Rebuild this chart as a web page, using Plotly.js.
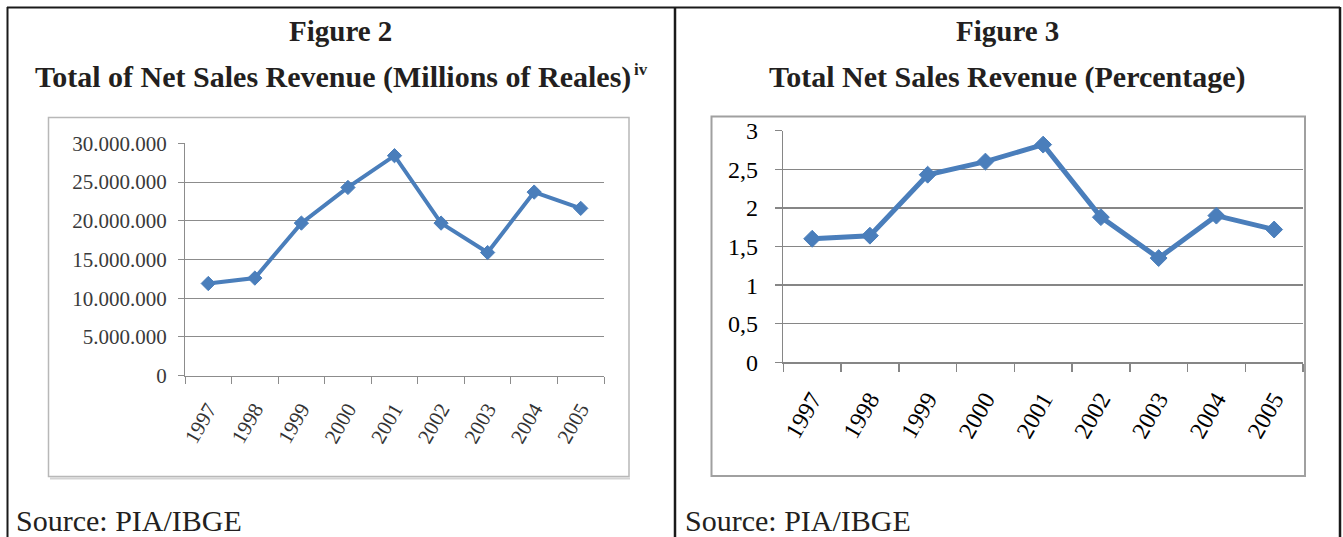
<!DOCTYPE html>
<html>
<head>
<meta charset="utf-8">
<script src="https://cdn.plot.ly/plotly-3.0.1.min.js"></script>
<style>
  html, body { margin: 0; padding: 0; background: #ffffff; }
  #chart { width: 1343px; height: 537px; }
</style>
</head>
<body>
<div id="chart"></div>
<script>
// ---- Data ----
const years = ["1997", "1998", "1999", "2000", "2001", "2002", "2003", "2004", "2005"];
const netSalesRevenue = [11900000, 12600000, 19700000, 24300000, 28400000, 19700000, 15900000, 23700000, 21600000];
const netSalesPercentage = [1.6, 1.64, 2.43, 2.6, 2.82, 1.88, 1.35, 1.9, 1.72];

const fig2Label = "Figure 2";
const fig2Title = "Total of Net Sales Revenue (Millions of Reales)";
const fig2Note = "iv";
const fig3Label = "Figure 3";
const fig3Title = "Total Net Sales Revenue (Percentage)";
const sourceText = "Source: PIA/IBGE";

// ---- Layout helpers (pixel -> paper) ----
const W = 1343, H = 537;
const X = px => px / W;
const Y = py => 1 - py / H;

const blue = "#4a7ebb";
const serif = "Liberation Serif, Times New Roman, serif";

const traces = [
  {
    x: years, y: netSalesRevenue, xaxis: "x", yaxis: "y",
    type: "scatter", mode: "lines+markers",
    line: { color: blue, width: 4 },
    marker: { symbol: "diamond", size: 11, color: blue, line: { color: blue, width: 1 } },
    hoverinfo: "x+y", showlegend: false
  },
  {
    x: years, y: netSalesPercentage, xaxis: "x2", yaxis: "y2",
    type: "scatter", mode: "lines+markers",
    line: { color: blue, width: 5 },
    marker: { symbol: "diamond", size: 13, color: blue, line: { color: blue, width: 1 } },
    hoverinfo: "x+y", showlegend: false
  }
];

const frameColor = "#1a1a1a";
const shapes = [
  // outer table frame
  { type: "line", xref: "paper", yref: "paper", x0: X(7), x1: X(1340), y0: Y(7.5), y1: Y(7.5), line: { color: frameColor, width: 2 } },
  { type: "line", xref: "paper", yref: "paper", x0: X(7.5), x1: X(7.5), y0: Y(7), y1: Y(537), line: { color: frameColor, width: 2 } },
  { type: "line", xref: "paper", yref: "paper", x0: X(675), x1: X(675), y0: Y(7), y1: Y(537), line: { color: frameColor, width: 2.5 } },
  { type: "line", xref: "paper", yref: "paper", x0: X(1340), x1: X(1340), y0: Y(7), y1: Y(537), line: { color: frameColor, width: 2.5 } },
  // chart boxes
  { type: "line", xref: "paper", yref: "paper", x0: X(50), x1: X(630), y0: Y(478.5), y1: Y(478.5), line: { color: "#d4d4d4", width: 2 } },
  { type: "rect", xref: "paper", yref: "paper", x0: X(48.5), x1: X(629), y0: Y(476.5), y1: Y(117.5), line: { color: "#b8b8b8", width: 1.5 } },
  { type: "rect", xref: "paper", yref: "paper", x0: X(711.5), x1: X(1305), y0: Y(476), y1: Y(116.5), line: { color: "#a0a0a0", width: 2 } }
];

const ann = (text, x, y, size, bold, anchor) => ({
  text: bold ? "<b>" + text + "</b>" : text,
  xref: "paper", yref: "paper", x: X(x), y: Y(y),
  xanchor: anchor || "center", yanchor: "middle",
  showarrow: false, font: { family: serif, size: size, color: "#231f20" }
});

const annotations = [
  ann(fig2Label, 341, 31, 29, true),
  ann(fig2Title, 333, 77, 30, true),
  ann(fig2Note, 632, 69, 17, true, "left"),
  ann(fig3Label, 1008, 31, 29, true),
  ann(fig3Title, 1008, 77, 30, true),
  ann(sourceText, 14, 520, 30, false, "left"),
  ann(sourceText, 683, 520, 30, false, "left")
];

const layout = {
  width: W, height: H,
  margin: { l: 0, r: 0, t: 0, b: 0, pad: 0 },
  paper_bgcolor: "#ffffff", plot_bgcolor: "#ffffff",
  separators: ",.",
  showlegend: false,
  xaxis: {
    domain: [X(185), X(604)], anchor: "y",
    type: "category", range: [-0.5, 8.5], fixedrange: true,
    showgrid: false, zeroline: false,
    showline: true, linecolor: "#8c8c8c", linewidth: 1,
    ticks: "outside", tickson: "boundaries", ticklen: 7, tickcolor: "#8c8c8c", tickwidth: 1,
    tickangle: -60, tickfont: { family: serif, size: 21, color: "#333333" },
    ticklabelstandoff: 12
  },
  yaxis: {
    domain: [Y(375.7), Y(143.3)], anchor: "x",
    range: [0, 30000000], dtick: 5000000, tick0: 0, tickformat: ",d", fixedrange: true,
    showgrid: true, gridcolor: "#8c8c8c", gridwidth: 1, zeroline: false,
    showline: true, linecolor: "#8c8c8c", linewidth: 1,
    ticks: "outside", ticklen: 6, tickcolor: "#8c8c8c", tickwidth: 1,
    tickfont: { family: serif, size: 21, color: "#3a3a3a" },
    ticklabelstandoff: 7
  },
  xaxis2: {
    domain: [X(783.3), X(1303)], anchor: "y2",
    type: "category", range: [-0.5, 8.5], fixedrange: true,
    showgrid: false, zeroline: false,
    showline: true, linecolor: "#868686", linewidth: 1.5,
    ticks: "outside", tickson: "boundaries", ticklen: 8, tickcolor: "#868686", tickwidth: 1.5,
    tickangle: -60, tickfont: { family: serif, size: 24, color: "#000000" },
    ticklabelstandoff: 12
  },
  yaxis2: {
    domain: [Y(362.3), Y(130.7)], anchor: "x2",
    range: [0, 3], dtick: 0.5, tick0: 0, fixedrange: true,
    showgrid: true, gridcolor: "#868686", gridwidth: 1.5, zeroline: false,
    showline: true, linecolor: "#868686", linewidth: 1.5,
    ticks: "outside", ticklen: 7, tickcolor: "#868686", tickwidth: 1.5,
    tickfont: { family: serif, size: 24, color: "#000000" },
    ticklabelstandoff: 12
  },
  shapes: shapes,
  annotations: annotations
};

Plotly.newPlot("chart", traces, layout, { displayModeBar: false, staticPlot: true });
</script>
</body>
</html>
